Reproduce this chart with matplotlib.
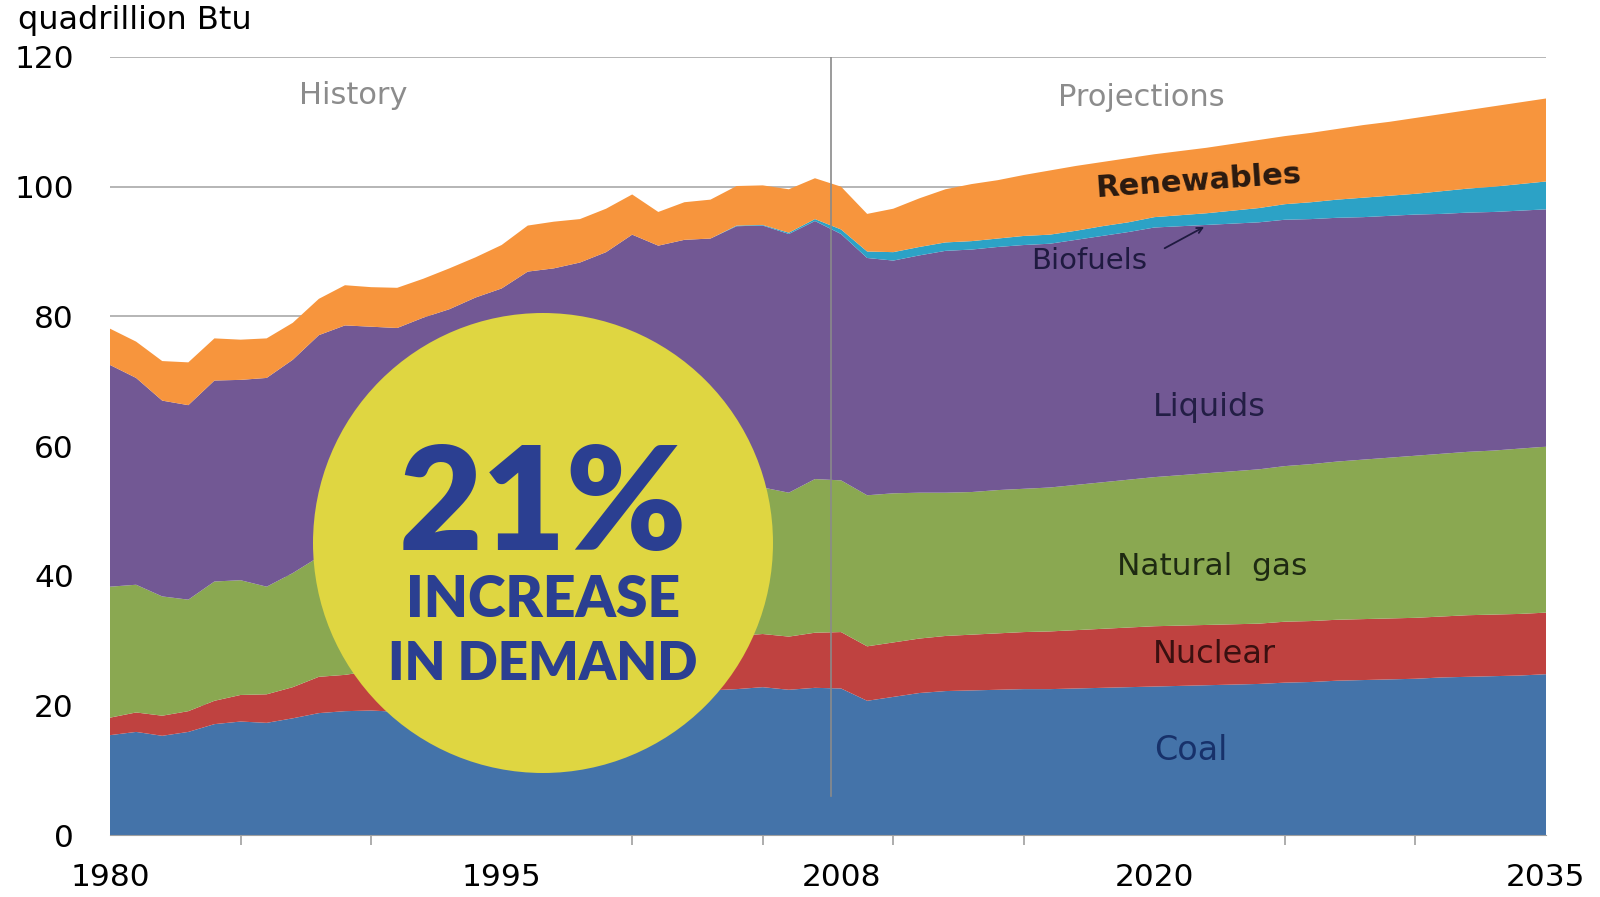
import matplotlib.pyplot as plt
from matplotlib.patches import Ellipse

# data, quadrillion Btu, 1980-2035
years = list(range(1980, 2036))

coal = [15.4, 15.9, 15.3, 15.9, 17.1, 17.5, 17.3, 18.0, 18.8, 19.1,
        19.2, 19.0, 19.1, 19.8, 19.9, 20.1, 21.0, 21.4, 21.6, 21.6,
        22.6, 21.9, 21.9, 22.3, 22.5, 22.8, 22.4, 22.7, 22.6, 20.7,
        21.3, 21.9, 22.2, 22.3, 22.4, 22.5, 22.5, 22.6, 22.7, 22.8,
        22.9, 23.0, 23.1, 23.2, 23.3, 23.5, 23.6, 23.8, 23.9, 24.0,
        24.1, 24.3, 24.4, 24.5, 24.6, 24.8]
nuclear = [2.7, 3.0, 3.1, 3.2, 3.6, 4.1, 4.4, 4.8, 5.6, 5.6,
           6.1, 6.4, 6.5, 6.4, 6.7, 7.1, 7.1, 6.6, 7.1, 7.6,
           7.9, 8.0, 8.1, 8.0, 8.2, 8.2, 8.2, 8.5, 8.7, 8.4,
           8.4, 8.4, 8.5, 8.6, 8.7, 8.8, 8.9, 9.0, 9.1, 9.2,
           9.3, 9.3, 9.3, 9.3, 9.3, 9.4, 9.4, 9.4, 9.4, 9.4,
           9.4, 9.4, 9.5, 9.5, 9.5, 9.5]
natural_gas = [20.2, 19.7, 18.4, 17.2, 18.4, 17.7, 16.6, 17.6, 18.5, 19.7,
               19.6, 20.0, 20.7, 21.2, 21.7, 22.7, 23.1, 23.2, 22.8, 22.9,
               23.8, 22.8, 23.6, 22.9, 22.9, 22.6, 22.2, 23.7, 23.4, 23.3,
               23.0, 22.5, 22.1, 22.0, 22.1, 22.1, 22.2, 22.4, 22.6, 22.8,
               23.0, 23.2, 23.4, 23.6, 23.8, 24.0, 24.2, 24.4, 24.6, 24.8,
               25.0, 25.1, 25.2, 25.3, 25.5, 25.6]
liquids = [34.2, 31.9, 30.2, 30.0, 31.0, 30.9, 32.2, 32.9, 34.2, 34.2,
           33.5, 32.8, 33.5, 33.7, 34.6, 34.4, 35.7, 36.2, 36.8, 37.8,
           38.3, 38.2, 38.2, 38.8, 40.3, 40.4, 39.9, 39.8, 38.0, 36.6,
           35.9, 36.6, 37.3, 37.4, 37.5, 37.6, 37.6, 37.8, 38.0, 38.2,
           38.5, 38.4, 38.3, 38.2, 38.1, 38.0, 37.8, 37.6, 37.4, 37.3,
           37.2, 37.0, 36.9, 36.8, 36.7, 36.6]
biofuels = [0.0, 0.0, 0.0, 0.0, 0.0, 0.0, 0.0, 0.0, 0.0, 0.0,
            0.0, 0.0, 0.0, 0.0, 0.0, 0.0, 0.0, 0.0, 0.0, 0.0,
            0.0, 0.0, 0.0, 0.0, 0.1, 0.1, 0.2, 0.3, 0.7, 1.0,
            1.3, 1.3, 1.3, 1.3, 1.3, 1.4, 1.4, 1.4, 1.5, 1.5,
            1.6, 1.7, 1.8, 2.0, 2.2, 2.4, 2.6, 2.8, 3.0, 3.1,
            3.2, 3.5, 3.7, 3.9, 4.1, 4.3]
renewables = [5.6, 5.6, 6.1, 6.6, 6.5, 6.2, 6.1, 5.7, 5.6, 6.2,
              6.1, 6.2, 6.0, 6.3, 6.2, 6.7, 7.1, 7.2, 6.7, 6.7,
              6.2, 5.2, 5.8, 6.0, 6.1, 6.1, 6.7, 6.3, 6.6, 5.8,
              6.7, 7.5, 8.2, 8.8, 9.0, 9.4, 9.9, 10.0, 9.9, 9.9,
              9.7, 9.9, 10.1, 10.3, 10.5, 10.5, 10.7, 10.9, 11.2, 11.4,
              11.7, 11.9, 12.1, 12.4, 12.6, 12.8]

layer_colors = ['#4473a9', '#bf4240', '#8aa851', '#725894', '#2ca2c6', '#f7953d']
label_years = [1980, 1995, 2008, 2020, 2035]

fig = plt.figure(figsize=(16, 8.97), dpi=100)
ax = fig.add_axes([110/1600, 62/897, 1436/1600, 778/897])

ax.stackplot(years, coal, nuclear, natural_gas, liquids, biofuels, renewables,
             colors=layer_colors, linewidth=0, zorder=2)

ax.set_xlim(1980, 2035)
ax.set_ylim(0, 120)
ax.set_yticks(range(0, 121, 20))
ax.yaxis.grid(True, color='#b0b0b0', lw=1.3, zorder=0)
ax.set_axisbelow(True)
ax.tick_params(axis='y', length=0, pad=26, labelsize=22.5)
for s in ['top', 'right', 'left']:
    ax.spines[s].set_visible(False)
ax.spines['bottom'].set_color('#a0a0a0')

ax.set_xticks(range(1980, 2036, 5), minor=True)
ax.set_xticks(label_years)
ax.set_xticklabels([str(y) for y in label_years])
ax.tick_params(axis='x', which='major', length=0, pad=20, labelsize=22.5)
ax.tick_params(axis='x', which='minor', length=7, color='#a0a0a0', width=1.2)

# history / projections divider
ax.axvline(2007.6, ymin=0.05, ymax=1.0, color='#8a8a8a', lw=1.2, zorder=3)

ax.text(1989.3, 114, 'History', color='#8c8c8c', fontsize=22, ha='center', va='center')
ax.text(2019.5, 113.7, 'Projections', color='#8c8c8c', fontsize=22, ha='center', va='center')

ax.text(2021.7, 100.8, 'Renewables', color='#2a1a10', fontsize=22, ha='center', va='center',
        rotation=4, fontweight='bold', zorder=5)
ax.text(2017.5, 88.6, 'Biofuels', color='#1f1a40', fontsize=21, ha='center', va='center', zorder=5)
ax.annotate('', xy=(2022.0, 94.0), xytext=(2020.3, 90.3),
            arrowprops=dict(arrowstyle='->', color='#1f1a40', lw=1.3), zorder=5)
ax.text(2022.1, 65.9, 'Liquids', color='#231e45', fontsize=23, ha='center', va='center', zorder=5)
ax.text(2022.2, 41.4, 'Natural  gas', color='#1e2a12', fontsize=22.5, ha='center', va='center', zorder=5)
ax.text(2022.3, 27.8, 'Nuclear', color='#3a1010', fontsize=23, ha='center', va='center', zorder=5)
ax.text(2021.4, 13.1, 'Coal', color='#17316a', fontsize=24, ha='center', va='center', zorder=5)

fig.text(18/1600, 1 - 20/897, 'quadrillion Btu', fontsize=23, ha='left', va='center')

# yellow callout
circ = Ellipse((543/1600, 1 - 543/897), 460/1600, 460/897, transform=fig.transFigure,
               facecolor='#dfd641', edgecolor='none', zorder=10)
fig.add_artist(circ)
navy = '#2b3f91'
fig.text(543/1600, 1 - 508/897, '21%', fontsize=104, fontweight='heavy', family='Lato',
         color=navy, ha='center', va='center', zorder=11)
fig.text(543/1600, 1 - 600/897, 'INCREASE', fontsize=41, fontweight='heavy', family='Lato',
         color=navy, ha='center', va='center', zorder=11)
fig.text(543/1600, 1 - 664/897, 'IN DEMAND', fontsize=38, fontweight='heavy', family='Lato',
         color=navy, ha='center', va='center', zorder=11)

fig.savefig('out.png', dpi=100)
